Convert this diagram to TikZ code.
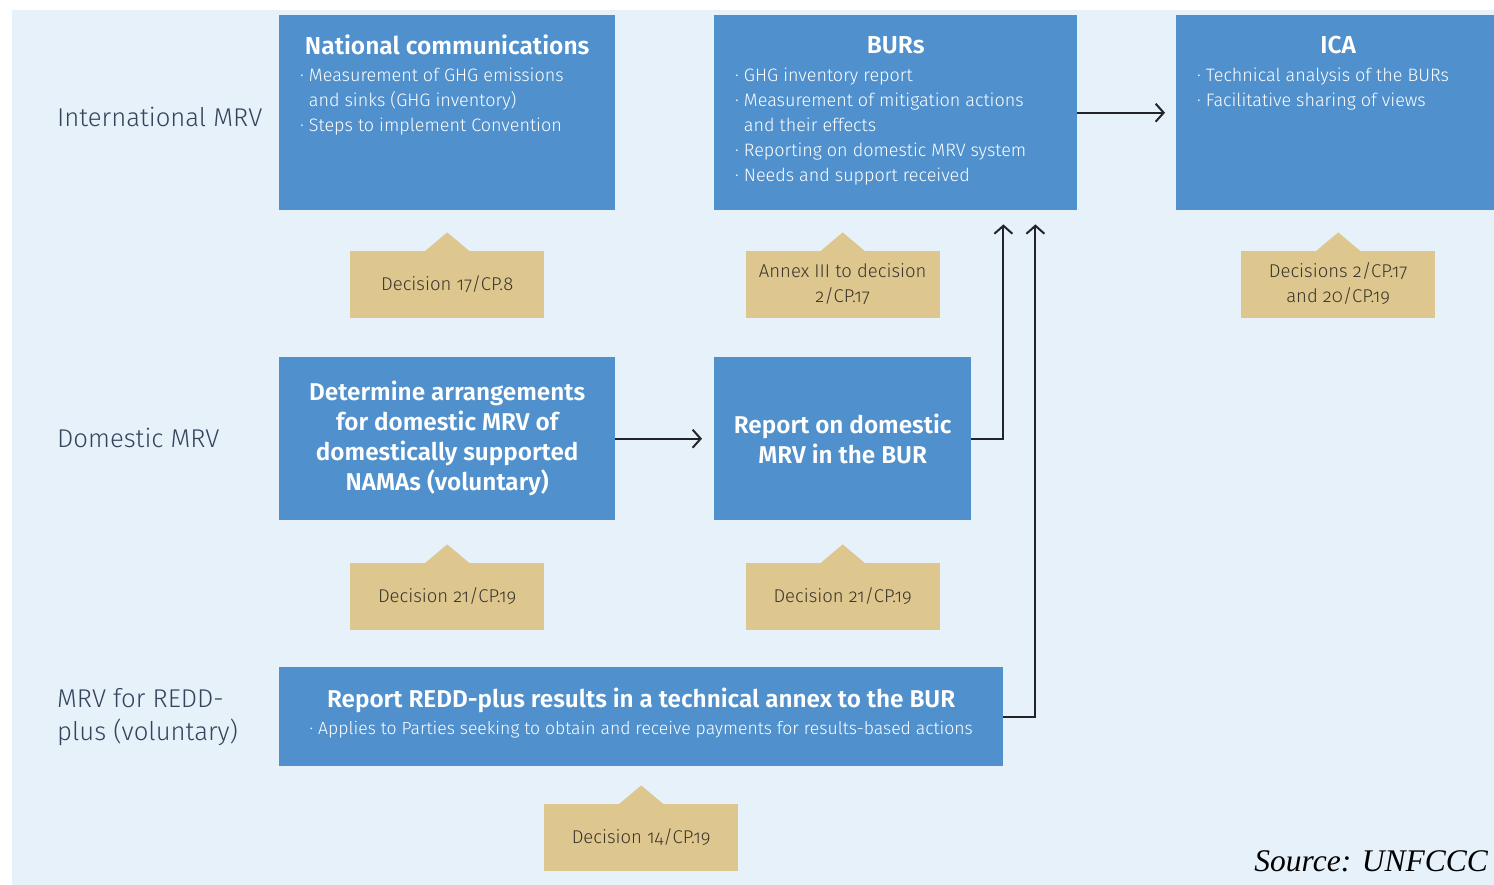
\documentclass[tikz,border=0pt]{standalone}
\usepackage{fontspec}
\setmainfont{Fira Sans Light}[BoldFont={Fira Sans SemiBold}, Numbers=OldStyle]
\newfontfamily\sourcefont{Liberation Serif}
\usetikzlibrary{arrows.meta, positioning, calc}

\definecolor{paneblue}{RGB}{230,241,250}
\definecolor{boxblue}{RGB}{79,144,205}
\definecolor{tagtan}{RGB}{221,199,143}
\definecolor{labelink}{RGB}{52,68,92}
\definecolor{tagink}{RGB}{58,52,44}
\definecolor{arrowink}{RGB}{35,35,40}

% little triangle on top of each decision tag
\newcommand{\tagpin}[1]{\fill[tagtan] ($(#1.north)+(-22,0.5)$) -- ($(#1.north)+(0,-18)$) -- ($(#1.north)+(22,0.5)$) -- cycle;}
\newcommand{\bul}{\textperiodcentered}

\begin{document}
\begin{tikzpicture}[x=1pt, y=-1pt,
    box/.style={fill=boxblue, inner sep=0pt, anchor=north west},
    tag/.style={fill=tagtan, minimum width=194, minimum height=67, inner sep=0pt, align=center, text=tagink, font=\fontsize{18.5}{25}\selectfont},
    rowlabel/.style={anchor=west, align=left, inner sep=0pt, text=labelink, font=\fontsize{25.7}{33}\selectfont},
    title/.style={text=white, font=\bfseries\fontsize{24.5}{30}\selectfont},
    bullets/.style={text=white, anchor=north west, inner sep=0pt, font=\fontsize{18}{25}\selectfont},
    flow/.style={-{Straight Barb[length=8pt,width=18pt]}, line width=2pt, draw=arrowink}]

  \useasboundingbox (0,0) rectangle (1494,885);
  \fill[paneblue] (12,10) rectangle (1494,885);

  % row labels
  \node[rowlabel] (intl) at (57,117) {International MRV};
  \node[rowlabel] (dom) at (57,438) {Domestic MRV};
  \node[rowlabel] (redd) at (57,717) {MRV for REDD-\\plus (voluntary)};

  % international MRV
  \node[box, minimum width=336, minimum height=195] (nc) at (279,15) {};
  \node[title] (nctitle) at ([yshift=-30pt]nc.north) {National communications};
  \node[bullets] (ncitems) at ([xshift=21pt, yshift=-49pt]nc.north west) {%
    \begin{tabular}{@{}l@{\hspace{5pt}}l@{}}
      \bul & Measurement of GHG emissions\\
           & and sinks (GHG inventory)\\
      \bul & Steps to implement Convention
    \end{tabular}};

  \node[box, minimum width=363, minimum height=195] (bur) at (714,15) {};
  \node[title] (burtitle) at ([yshift=-30pt]bur.north) {BURs};
  \node[bullets] (buritems) at ([xshift=21pt, yshift=-49pt]bur.north west) {%
    \begin{tabular}{@{}l@{\hspace{5pt}}l@{}}
      \bul & GHG inventory report\\
      \bul & Measurement of mitigation actions\\
           & and their effects\\
      \bul & Reporting on domestic MRV system\\
      \bul & Needs and support received
    \end{tabular}};

  \node[box, minimum width=324, minimum height=195] (ica) at (1176,15) {};
  \node[title] (icatitle) at ([yshift=-30pt]ica.north) {ICA};
  \node[bullets] (icaitems) at ([xshift=21pt, yshift=-49pt]ica.north west) {%
    \begin{tabular}{@{}l@{\hspace{5pt}}l@{}}
      \bul & Technical analysis of the BURs\\
      \bul & Facilitative sharing of views
    \end{tabular}};

  \node[tag, below=40pt of nc] (tnc) {Decision 17/CP.8};
  \node[tag, below=40pt of bur.south, xshift=-53pt] (tbur) {Annex III to decision\\2/CP.17};
  \node[tag, below=40pt of ica] (tica) {Decisions 2/CP.17\\and 20/CP.19};

  % domestic MRV
  \node[box, minimum width=336, minimum height=163, text=white, align=center,
        font=\bfseries\fontsize{24.3}{30}\selectfont] (det) at (279,357)
        {Determine arrangements\\for domestic MRV of\\domestically supported\\NAMAs (voluntary)};
  \node[box, minimum width=257, minimum height=163, text=white, align=center,
        font=\bfseries\fontsize{24.3}{30}\selectfont] (rep) at (714,357)
        {Report on domestic\\MRV in the BUR};

  \node[tag, below=42pt of det] (tdet) {Decision 21/CP.19};
  \node[tag, below=42pt of rep] (trep) {Decision 21/CP.19};

  % REDD-plus
  \node[box, minimum width=724, minimum height=99] (rp) at (279,667) {};
  \node[title, font=\bfseries\fontsize{24.3}{30}\selectfont] (rptitle) at ([yshift=-33pt]rp.north) {Report REDD-plus results in a technical annex to the BUR};
  \node[text=white, inner sep=0pt, font=\fontsize{17.6}{20}\selectfont] (rpitem) at ([yshift=-63pt]rp.north)
    {\bul\hspace{5pt}Applies to Parties seeking to obtain and receive payments for results-based actions};

  \node[tag, below=37pt of rp] (trp) {Decision 14/CP.19};

  \foreach \t in {tnc,tbur,tica,tdet,trep,trp} {\tagpin{\t}}

  % connectors
  \draw[flow, shorten >=11pt] (bur.east) -- (ica.west);
  \draw[flow, shorten >=12pt] (det.east) -- (rep.west);
  \draw[flow, shorten >=14pt] (rep.east) -| ([xshift=-74pt]bur.south east);
  \draw[flow, shorten >=14pt] (rp.east) -| ([xshift=-42pt]bur.south east);

  \node[anchor=base east, inner sep=0pt, font=\sourcefont\itshape\fontsize{31.5}{31}\selectfont] (src) at (1488,871) {Source: UNFCCC};
\end{tikzpicture}
\end{document}
